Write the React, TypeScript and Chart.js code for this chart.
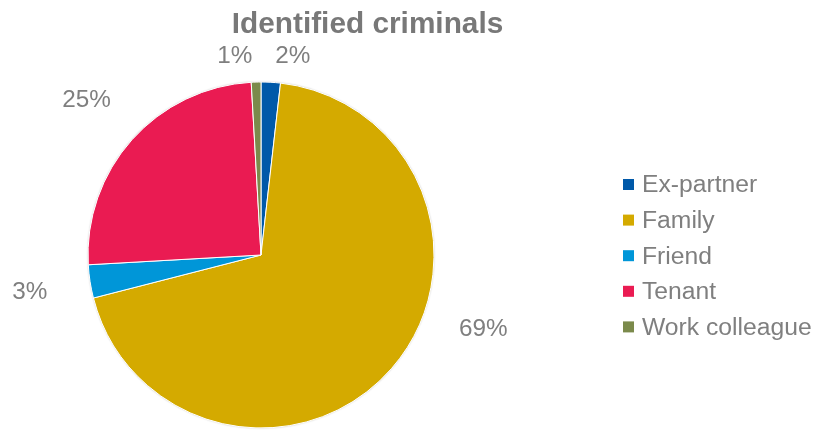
import React, { useEffect, useRef } from "react";
import { Chart, registerables } from "chart.js";

Chart.register(...registerables);

const TITLE = "Identified criminals";
const CATEGORIES = ["Ex-partner", "Family", "Friend", "Tenant", "Work colleague"];
const VALUES = [1.8, 69.2, 3.1, 25.0, 0.9];
const PERCENT_LABELS = ["2%", "69%", "3%", "25%", "1%"];
const COLORS = ["#0059A9", "#D4AA00", "#0096D8", "#EA1B52", "#7B8A4B"];

const TEXT_GRAY = "#7f7f7f";
const FONT = "'Liberation Sans', Arial, sans-serif";

const shadowPlugin = {
  id: "pieShadow",
  beforeDatasetsDraw(chart: any) {
    const arc = chart.getDatasetMeta(0).data[0];
    if (!arc) return;
    const ctx = chart.ctx;
    ctx.save();
    ctx.beginPath();
    ctx.arc(arc.x, arc.y, arc.outerRadius, 0, Math.PI * 2);
    ctx.fillStyle = "#ffffff";
    ctx.shadowColor = "rgba(0,0,0,0.35)";
    ctx.shadowBlur = 2;
    ctx.fill();
    ctx.restore();
  },
};

const decorPlugin = {
  id: "decor",
  afterDraw(chart: any) {
    const ctx = chart.ctx;
    const W = chart.width;
    ctx.save();
    // title
    ctx.fillStyle = "#787878";
    ctx.font = `bold 29.8px ${FONT}`;
    ctx.textAlign = "center";
    ctx.textBaseline = "alphabetic";
    ctx.fillText(TITLE, 367.5, 33);

    // legend
    ctx.font = `24.7px ${FONT}`;
    ctx.textAlign = "left";
    ctx.textBaseline = "middle";
    const lx = W - 193;
    CATEGORIES.forEach((c, i) => {
      const cy = 184.5 + i * 35.6;
      ctx.fillStyle = COLORS[i];
      ctx.fillRect(lx, cy - 5.5, 11, 11);
      ctx.fillStyle = TEXT_GRAY;
      ctx.fillText(c, lx + 19, cy + 1);
    });

    // percentage labels
    const meta = chart.getDatasetMeta(0);
    const pts: any[] = [];
    meta.data.forEach((arc: any, i: number) => {
      const mid = (arc.startAngle + arc.endAngle) / 2;
      const R = arc.outerRadius;
      const D = R + 61;
      const cx = arc.x, cy = arc.y;
      let dx = D * Math.cos(mid);
      let dy = D * Math.sin(mid);
      const maxDy = 73;
      const minDy = -200;
      let top = false;
      if (dy > maxDy) {
        dy = maxDy;
        dx = Math.sign(dx || 1) * Math.sqrt(D * D - dy * dy);
      } else if (dy < minDy) {
        dx = (minDy * Math.cos(mid)) / Math.sin(mid);
        dy = minDy;
        top = true;
      }
      pts.push({ i, x: cx + dx, y: cy + dy, top });
    });
    // spread apart top labels
    const tops = pts.filter((p) => p.top).sort((a, b) => a.x - b.x);
    const minSep = 58;
    for (let k = 1; k < tops.length; k++) {
      const a = tops[k - 1], b = tops[k];
      if (b.x - a.x < minSep) {
        const m = (a.x + b.x) / 2;
        a.x = m - minSep / 2;
        b.x = m + minSep / 2;
      }
    }
    ctx.font = `24.3px ${FONT}`;
    ctx.textAlign = "center";
    ctx.textBaseline = "middle";
    ctx.fillStyle = TEXT_GRAY;
    pts.forEach((p) => {
      ctx.fillText(PERCENT_LABELS[p.i], p.x, p.y + 1);
    });
    ctx.restore();
  },
};

export default function App() {
  const ref = useRef<HTMLCanvasElement>(null);
  useEffect(() => {
    if (!ref.current) return;
    const chart = new Chart(ref.current, {
      type: "pie",
      data: {
        labels: CATEGORIES,
        datasets: [
          {
            data: VALUES,
            backgroundColor: COLORS,
            borderColor: "#ffffff",
            borderWidth: 1,
            hoverOffset: 0,
            hoverBorderWidth: 1,
          },
        ],
      },
      options: {
        animation: false,
        responsive: true,
        maintainAspectRatio: false,
        radius: 173,
        layout: { padding: { left: 88, top: 82, right: 382, bottom: 2 } },
        plugins: {
          legend: { display: false },
          title: { display: false },
          tooltip: { enabled: false },
        },
      } as any,
      plugins: [shadowPlugin, decorPlugin],
    });
    return () => chart.destroy();
  }, []);
  return (
    <div style={{ position: "fixed", left: 0, top: 0, width: 816, height: 430, background: "#fff" }}>
      <canvas ref={ref} />
    </div>
  );
}
